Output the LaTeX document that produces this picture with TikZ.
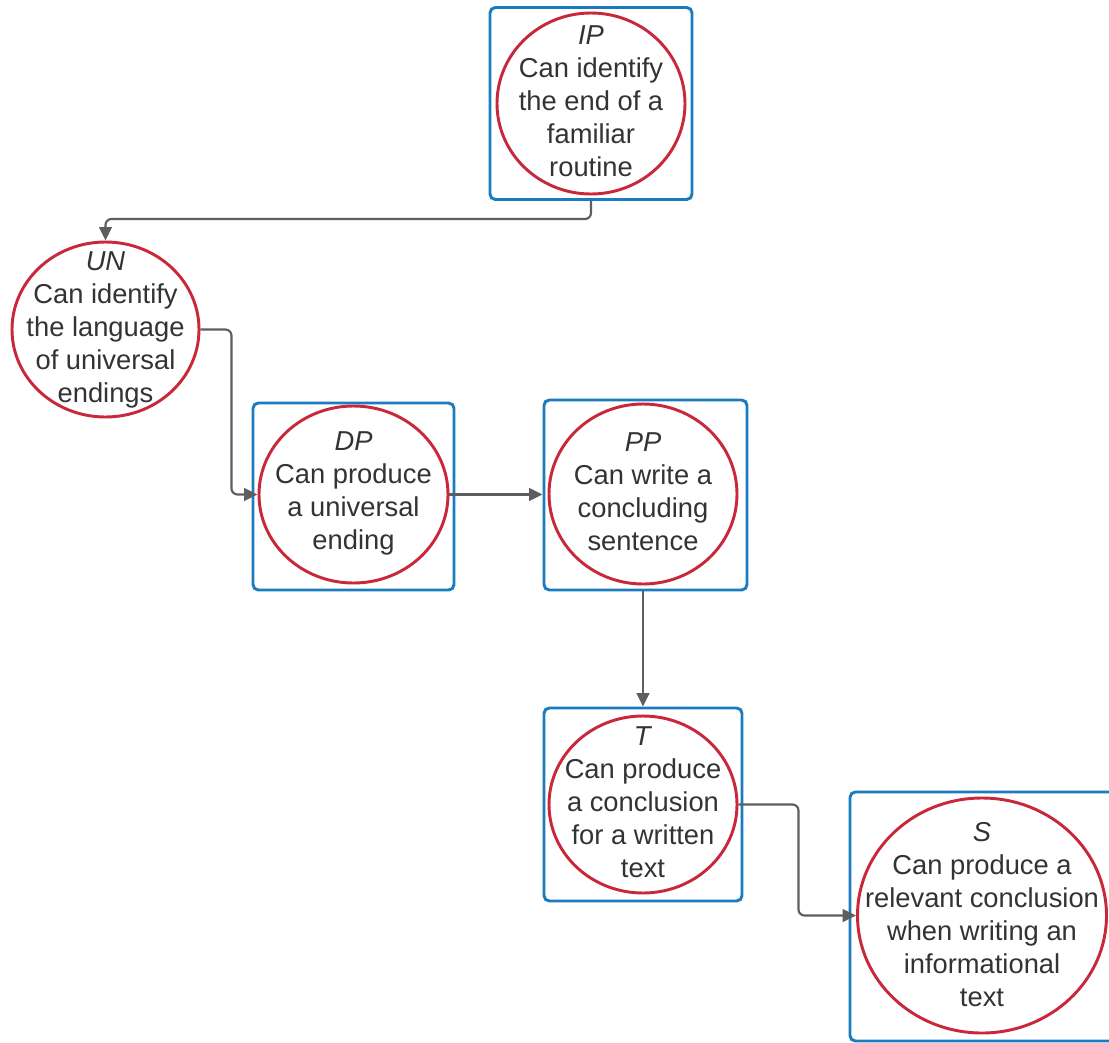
\documentclass[tikz,border=0pt]{standalone}
\usepackage{fontspec}
\setmainfont{Liberation Sans}
\usetikzlibrary{shapes.geometric,arrows.meta}
\definecolor{boxblue}{HTML}{1A7BC0}
\definecolor{circred}{HTML}{C8283A}
\definecolor{linegray}{HTML}{5E5E5E}
\definecolor{txt}{HTML}{333333}
\begin{document}
\begin{tikzpicture}[x=0.75pt,y=-0.75pt,
  frame/.style 2 args={draw=boxblue, line width=2.2pt, rounded corners=4pt, rectangle, inner sep=0pt,
    minimum width=#1*0.75pt, minimum height=#2*0.75pt},
  ring/.style 2 args={ellipse, draw=circred, line width=2.2pt, inner sep=0pt,
    minimum width=#1*0.75pt, minimum height=#2*0.75pt},
  label/.style={align=center, text=txt, inner sep=0pt, font=\fontsize{20.5pt}{24.75pt}\selectfont},
  conn/.style={draw=linegray, line width=1.6pt, rounded corners=4.5pt,
    -{Triangle[length=10pt,width=9.5pt]}}
]
\useasboundingbox (0,0) rectangle (1109,1042);
\fill[white] (0,0) rectangle (1109,1042);

% boxes
\node[frame={202}{192}] (IPb) at (591,103.5) {};
\node[frame={201}{187}] (DPb) at (353.5,496.5) {};
\node[frame={203}{190}] (PPb) at (645.5,495) {};
\node[frame={198}{193}] (Tb) at (643,804.5) {};
\node[frame={266}{249}] (Sb) at (983,916.5) {};

% circles
\node[ring={188}{181}] (IPc) at (591,103.5) {};
\node[ring={187}{175}] (UNc) at (105.5,329.5) {};
\node[ring={189}{177}] (DPc) at (353.5,494.5) {};
\node[ring={188}{180}] (PPc) at (643,494) {};
\node[ring={188}{177}] (Tc) at (643,804.5) {};
\node[ring={249}{235}] (Sc) at (982,915.5) {};

% texts
\node[label] (IPt) at (591,101.5) {\textit{IP}\\Can identify\\the end of a\\familiar\\routine};
\node[label] (UNt) at (105.5,330) {\textit{UN}\\Can identify\\the language\\of universal\\endings};
\node[label] (DPt) at (353.5,493) {\textit{DP}\\Can produce\\a universal\\ending};
\node[label] (PPt) at (643,492) {\textit{PP}\\Can write a\\concluding\\sentence};
\node[label] (Tt) at (643,802) {\textit{T}\\Can produce\\a conclusion\\for a written\\text};
\node[label] (St) at (982,915) {\textit{S}\\Can produce a\\relevant conclusion\\when writing an\\informational\\text};

% connectors
\draw[conn] (IPb.south) -- ++(0,18) -| (UNc.north);
\draw[conn] (UNc.east) -- ++(31,0) |- (DPc.west);
\draw[conn] (DPc.east) -- (DPc.east -| PPb.west);
\draw[conn] (PPc.south |- PPb.south) -- (PPc.north |- Tb.north);
\draw[conn] (Tc.east) -- ++(60,0) |- (Sc.west);
\end{tikzpicture}
\end{document}
